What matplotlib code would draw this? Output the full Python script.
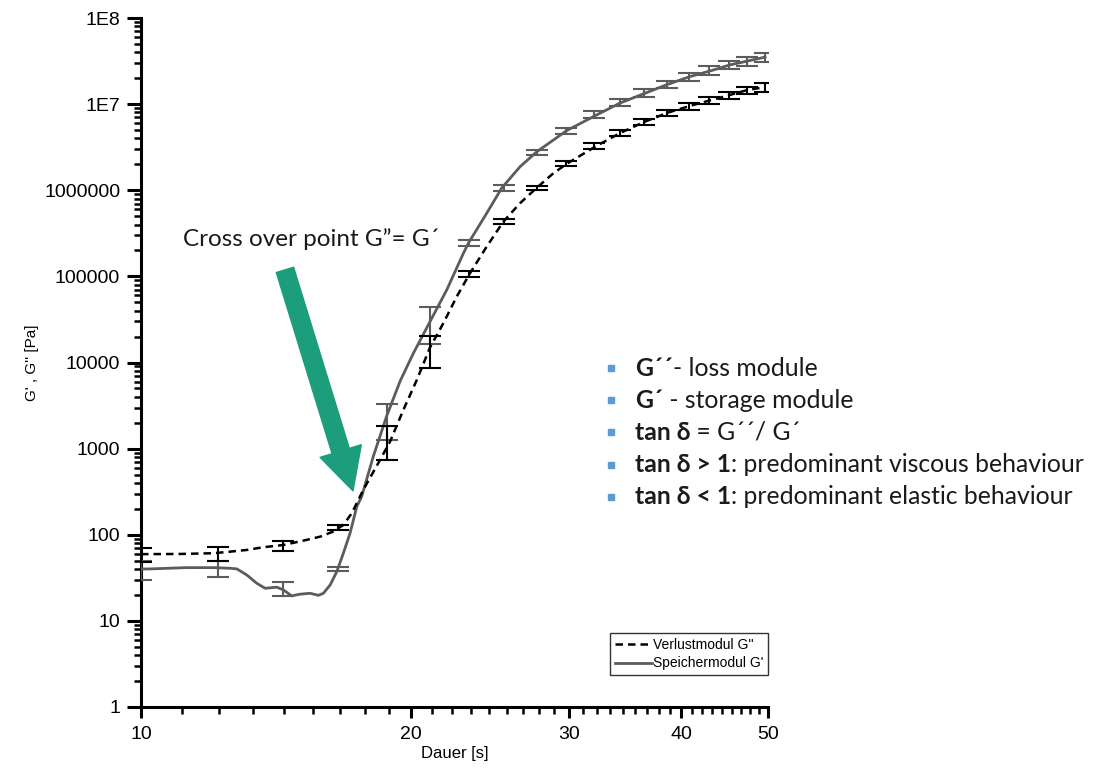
import matplotlib
matplotlib.use('Agg')
import matplotlib.pyplot as plt
from matplotlib.lines import Line2D
from matplotlib.ticker import FixedLocator, LogLocator, NullFormatter

# continuous traces, time in s, modulus in Pa
t_loss = [10.0, 11.05, 12.04, 12.57, 13.12, 13.69, 14.41, 15.17, 15.84, 16.38, 16.81,
          17.18, 17.47, 17.69, 18.47, 18.95, 19.61, 20.30, 21.00, 21.73, 22.49, 23.27,
          24.29, 25.35, 26.46, 27.62, 28.83, 29.92, 32.24, 34.29, 36.47, 38.68, 40.93,
          43.27, 45.36, 47.54, 49.62]
g_loss = [59.5, 59.8, 61, 63.6, 66.6, 71.6, 76, 85.4, 95, 109, 130,
          178, 254, 331, 739, 1206, 2815, 6280, 15000, 28600, 58300, 109000,
          222000, 433000, 708000, 1.07e6, 1.58e6, 2.07e6, 3.30e6, 4.68e6, 6.28e6, 7.98e6, 9.55e6,
          1.12e7, 1.28e7, 1.47e7, 1.57e7]

t_stor = [10.0, 10.23, 11.24, 12.03, 12.57, 12.79, 13.12, 13.46, 13.75, 14.17, 14.41,
          14.72, 15.04, 15.43, 15.77, 15.97, 16.25, 16.53, 16.81, 17.10, 17.40, 17.62,
          18.15, 18.79, 19.45, 20.12, 21.00, 21.92, 22.88, 23.17, 24.29, 25.24, 26.46,
          27.62, 29.83, 32.21, 34.20, 36.47, 38.55, 40.93, 43.27, 45.36, 47.54, 49.62]
g_stor = [40, 40.1, 41.5, 41.5, 40.8, 40.1, 34.1, 27.3, 23.9, 24.6, 22.9,
          19.5, 20.4, 20.9, 19.8, 20.9, 26.1, 37.3, 61, 104, 212, 277,
          807, 2400, 6100, 12800, 29900, 69700, 186000, 243000, 542000, 1.06e6, 1.88e6,
          2.8e6, 4.94e6, 7.5e6, 1.03e7, 1.34e7, 1.68e7, 2.09e7, 2.46e7, 2.86e7, 3.18e7, 3.52e7]

# averaged measurement points with standard deviation
t_pts = [10.0, 12.2, 14.4, 16.6, 18.8, 21.0, 23.2, 25.4, 27.6, 29.8,
         32.0, 34.2, 36.4, 38.6, 40.8, 43.0, 45.2, 47.4, 49.6]
loss_mean = [59, 61, 75, 122, 1290, 14500, 107000, 435000, 1.07e6, 2.05e6,
             3.3e6, 4.65e6, 6.25e6, 7.9e6, 9.5e6, 1.1e7, 1.27e7, 1.45e7, 1.57e7]
loss_sd = [10.5, 11, 10.5, 8.5, 560, 5900, 8000, 25000, 60000, 130000,
           250000, 350000, 550000, 700000, 850000, 1.0e6, 1.3e6, 1.5e6, 2.0e6]
stor_mean = [40, 41, 23.7, 40, 2280, 30500, 245000, 1.07e6, 2.75e6, 4.95e6,
             7.6e6, 1.04e7, 1.34e7, 1.7e7, 2.09e7, 2.46e7, 2.86e7, 3.18e7, 3.52e7]
stor_sd = [10, 8.6, 4.3, 2, 1020, 14100, 22000, 80000, 200000, 400000,
           700000, 1.0e6, 1.4e6, 1.8e6, 2.4e6, 2.9e6, 3.3e6, 3.7e6, 4.2e6]

x_ticks = [10, 20, 30, 40, 50]
y_ticks = [1, 10, 100, 1000, 10000, 100000, 1000000, 1e7, 1e8]
y_labels = ['1', '10', '100', '1000', '10000', '100000', '1000000', '1E7', '1E8']

notes = [('G\u00b4\u00b4', '- loss module'),
         ('G\u00b4', ' - storage module'),
         ('tan \u03b4', ' = G\u00b4\u00b4/ G\u00b4'),
         ('tan \u03b4 > 1', ': predominant viscous behaviour'),
         ('tan \u03b4 < 1', ': predominant elastic behaviour')]

plt.rcParams['font.family'] = ['Liberation Sans', 'DejaVu Sans']
grey = '#5c5c5c'
green = '#1c9d7b'
office_font = ['Lato', 'DejaVu Sans']

fig = plt.figure(figsize=(10.94, 7.74), dpi=100)
ax = fig.add_axes([0.1289, 0.0866, 0.5731, 0.8901])

stor_line, = ax.plot(t_stor, g_stor, color=grey, lw=2.0, label="Speichermodul G'", zorder=3)
loss_line, = ax.plot(t_loss, g_loss, color='black', lw=1.8, dashes=(3, 2),
                     label="Verlustmodul G''", zorder=4)
ax.errorbar(t_pts, stor_mean, yerr=stor_sd, fmt='none', ecolor=grey, elinewidth=1.5,
            capsize=8, capthick=1.5, zorder=3)
ax.errorbar(t_pts, loss_mean, yerr=loss_sd, fmt='none', ecolor='black', elinewidth=1.5,
            capsize=8, capthick=1.5, zorder=4)

ax.set_xscale('log')
ax.set_yscale('log')
ax.set_xlim(10, 50)
ax.set_ylim(1, 1e8)

ax.set_xticks(x_ticks, labels=[str(v) for v in x_ticks])
minor_x = [b + k * 10 / 9 for b in (10, 20, 30, 40) for k in range(1, 9)]
ax.xaxis.set_minor_locator(FixedLocator(minor_x))
ax.xaxis.set_minor_formatter(NullFormatter())
ax.set_yticks(y_ticks, labels=y_labels)
ax.yaxis.set_minor_locator(LogLocator(base=10, subs=range(2, 10), numticks=20))
ax.yaxis.set_minor_formatter(NullFormatter())

for s in ('top', 'right'):
    ax.spines[s].set_visible(False)
for s in ('left', 'bottom'):
    ax.spines[s].set_linewidth(2.2)
ax.tick_params(axis='both', which='major', direction='out', width=2.2, labelsize=14)
ax.tick_params(axis='y', which='major', length=10, pad=5)
ax.tick_params(axis='x', which='major', length=8, pad=6)
ax.tick_params(axis='both', which='minor', direction='out', width=1.8, length=5)

ax.set_xlabel('Dauer [s]', fontsize=12, labelpad=2)
ax.set_ylabel("G' , G'' [Pa]", fontsize=11, labelpad=4)

leg = ax.legend(handles=[loss_line, stor_line], loc='lower right', bbox_to_anchor=(1.0, 0.046),
                fontsize=10, frameon=True, fancybox=False, handlelength=2.7,
                handletextpad=0.05, borderpad=0.35, labelspacing=0.35, borderaxespad=0)
leg.get_frame().set_edgecolor('black')
leg.get_frame().set_linewidth(1.0)

# arrow pointing at the crossover of both moduli
ax.annotate('', xy=(17.23, 323), xytext=(14.47, 119000),
            arrowprops=dict(arrowstyle='simple,head_length=1.5,head_width=1.55,tail_width=0.65',
                            mutation_scale=20, color=green, shrinkA=0, shrinkB=0))
ax.text(15.47, 272000, 'Cross over point G\u201d= G\u00b4', fontsize=17.5, family=office_font,
        ha='center', va='center', color='#1a1a1a')

# bullet notes to the right of the plot
W, H = 1094, 774
for i, (bold, rest) in enumerate(notes):
    y = 1 - (368 + i * 32.2) / H
    fig.add_artist(Line2D([611 / W], [y], marker='s', ms=5, color='#5b9bd5',
                          transform=fig.transFigure))
    tb = fig.text(635 / W, y, bold, fontsize=17.8, family=office_font, weight='bold',
                  va='center', ha='left', color='#1a1a1a')
    ax.annotate(rest, xy=(1, 0.5), xycoords=tb, va='center', ha='left',
                fontsize=17.8, family=office_font, color='#1a1a1a', annotation_clip=False)

fig.savefig('out.png', dpi=100)
